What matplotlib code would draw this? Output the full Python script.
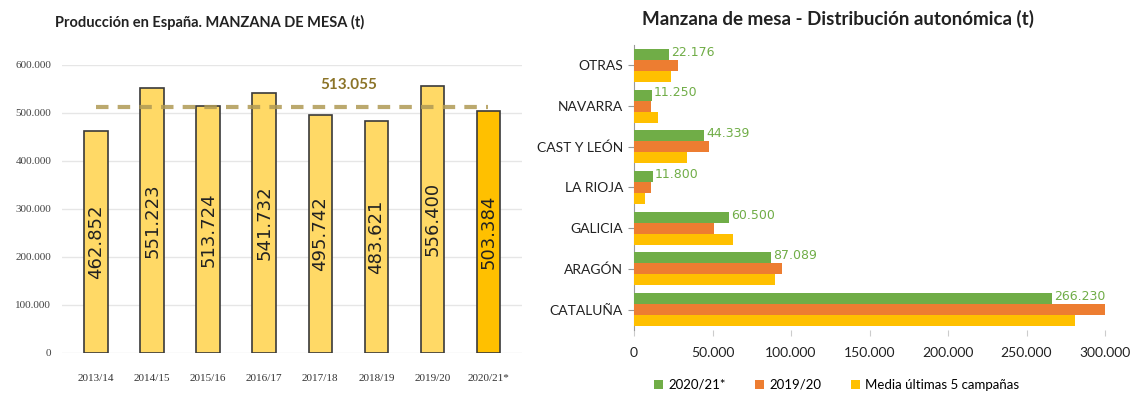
import numpy as np
import matplotlib
matplotlib.use('Agg')
import matplotlib.pyplot as plt
from matplotlib.ticker import FuncFormatter

campanas = ['2013/14', '2014/15', '2015/16', '2016/17', '2017/18', '2018/19', '2019/20', '2020/21*']
produccion = [462852, 551223, 513724, 541732, 495742, 483621, 556400, 503384]
media = 513055

regiones = ['CATALUÑA', 'ARAGÓN', 'GALICIA', 'LA RIOJA', 'CAST Y LEÓN', 'NAVARRA', 'OTRAS']
val_2021 = [266230, 87089, 60500, 11800, 44339, 11250, 22176]
val_2019 = [300000, 94000, 51000, 11000, 48000, 11000, 28000]
val_media5 = [281000, 90000, 63000, 7000, 34000, 15000, 23500]
series_names = ['2020/21*', '2019/20', 'Media últimas 5 campañas']


def miles(v, pos=None):
    return f'{int(round(v)):,}'.replace(',', '.')


fig = plt.figure(figsize=(11.35, 4.01), dpi=100)
title_font = 'Lato'

# grafico 1: produccion
ax1 = fig.add_axes([0.055, 0.12, 0.405, 0.718])
x = np.arange(len(campanas))
colores = ['#FFD966'] * (len(campanas) - 1) + ['#FFC000']
ax1.bar(x, produccion, width=0.42, color=colores, edgecolor='#3a3a3a', linewidth=1.2, zorder=3)
for xi, v in zip(x, produccion):
    ax1.text(xi, v / 2, miles(v), rotation=90, ha='center', va='center', fontsize=13,
             color='#222222', zorder=4)
ax1.plot([x[0], x[-1]], [media, media], linestyle=(0, (3, 2.2)), color='#B09A55', linewidth=3,
         alpha=0.85, zorder=5)
ax1.text((x[4] + x[5]) / 2, 558000, miles(media), ha='center', va='center', fontsize=11,
         fontweight='bold', color='#8C7428', family=title_font)
ax1.set_xlim(-0.6, len(campanas) - 0.4)
ax1.set_ylim(0, 600000)
ax1.set_yticks(np.arange(0, 600001, 100000))
ax1.yaxis.set_major_formatter(FuncFormatter(miles))
ax1.set_xticks(x)
ax1.set_xticklabels(campanas, family='Liberation Serif', fontsize=8, color='#333333')
for lab in ax1.get_yticklabels():
    lab.set_family('Liberation Serif')
    lab.set_fontsize(8)
    lab.set_color('#444444')
ax1.grid(axis='y', color='#E6E6E6', linewidth=1, zorder=0)
ax1.tick_params(axis='y', length=0, pad=8)
ax1.tick_params(axis='x', length=0, pad=15)
for s in ax1.spines.values():
    s.set_visible(False)
fig.text(0.185, 0.945, 'Producción en España. MANZANA DE MESA (t)', ha='center', va='center',
         fontsize=10.5, fontweight='bold', color='#222222', family=title_font)

# grafico 2: distribucion autonomica
ax2 = fig.add_axes([0.5586, 0.177, 0.415, 0.711])
y = np.arange(len(regiones))
h = 0.27
ax2.barh(y + h, val_2021, height=h, color='#70AD47', label=series_names[0], zorder=3)
ax2.barh(y, val_2019, height=h, color='#ED7D31', label=series_names[1], zorder=3)
ax2.barh(y - h, val_media5, height=h, color='#FFC000', label=series_names[2], zorder=3)
for yi, v in zip(y, val_2021):
    ax2.text(v + 1500, yi + h + 0.05, miles(v), ha='left', va='center', fontsize=9,
             color='#70AD47', zorder=4)
ax2.set_xlim(0, 300000)
ax2.set_ylim(-0.5, len(regiones) - 0.5)
ax2.set_xticks(np.arange(0, 300001, 50000))
ax2.xaxis.set_major_formatter(FuncFormatter(miles))
ax2.set_yticks(y)
ax2.set_yticklabels(regiones)
ax2.tick_params(axis='y', length=4, color='#999999', labelsize=10, labelcolor='#222222', pad=4)
ax2.tick_params(axis='x', length=4, color='#CCCCCC', labelsize=10, labelcolor='#222222', pad=8)
for lab in ax2.get_xticklabels() + ax2.get_yticklabels():
    lab.set_family('Lato')
for s in ['top', 'right', 'bottom']:
    ax2.spines[s].set_visible(False)
ax2.spines['left'].set_color('#999999')
leg = ax2.legend(loc='upper center', bbox_to_anchor=(0.43, -0.13), ncol=3, frameon=False,
                 handlelength=0.7, handleheight=0.7, columnspacing=2.2,
                 handletextpad=0.4, prop={'family': 'Lato', 'size': 9.5})
fig.text(0.738, 0.953, 'Manzana de mesa - Distribución autonómica (t)', ha='center', va='center',
         fontsize=13.5, fontweight='bold', color='#222222', family=title_font)

fig.savefig('out.png', dpi=100)
